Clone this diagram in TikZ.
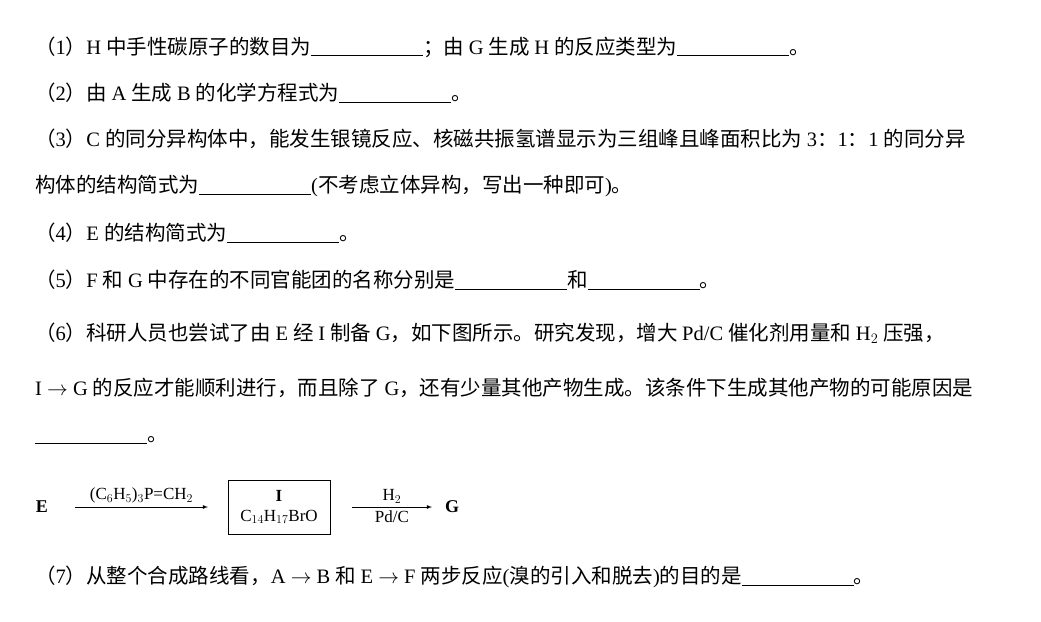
\documentclass[tikz,border=0pt]{standalone}
\usepackage{fontspec}
\setmainfont{Liberation Serif}
\newfontfamily\cjk{Noto Sans CJK SC}
\usetikzlibrary{positioning}
\newXeTeXintercharclass\cjkclass
\count255="4E00 \loop \XeTeXcharclass\count255=\cjkclass \advance\count255 1 \ifnum\count255<"A000 \repeat
\count255="3000 \loop \XeTeXcharclass\count255=\cjkclass \advance\count255 1 \ifnum\count255<"3040 \repeat
\count255="FF00 \loop \XeTeXcharclass\count255=\cjkclass \advance\count255 1 \ifnum\count255<"FFF0 \repeat
\XeTeXinterchartoks 0 \cjkclass = {\cjk}
\XeTeXinterchartoks 4095 \cjkclass = {\cjk}
\XeTeXinterchartoks \cjkclass 0 = {\rmfamily}
\XeTeXinterchartoks 4095 0 = {\rmfamily}
\newcommand{\blank}{\rule[-2pt]{112pt}{0.7pt}}
\begin{document}
\XeTeXinterchartokenstate=1
\begin{tikzpicture}[x=1pt,y=-1pt,
  txt/.style={anchor=west,inner sep=0pt,font=\fontsize{20.5}{24}\selectfont},
  chem/.style={inner sep=2pt,font=\fontsize{18}{22}\selectfont}]
\useasboundingbox (0,0) rectangle (1041,621);
\node[txt] (q1) at (35,47) {（1）H 中手性碳原子的数目为\blank；由 G 生成 H 的反应类型为\blank。};
\node[txt] (q2) at (35,93) {（2）由 A 生成 B 的化学方程式为\blank。};
\node[txt] (q3) at (35,139) {（3）C 的同分异构体中，能发生银镜反应、核磁共振氢谱显示为三组峰且峰面积比为 3：1：1 的同分异};
\node[txt] (q3b) at (35,186) {构体的结构简式为\blank(不考虑立体异构，写出一种即可)。};
\node[txt] (q4) at (35,233) {（4）E 的结构简式为\blank。};
\node[txt] (q5) at (35,280) {（5）F 和 G 中存在的不同官能团的名称分别是\blank 和\blank。};
\node[txt] (q6) at (35,333) {（6）科研人员也尝试了由 E 经 I 制备 G，如下图所示。研究发现，增大 Pd/C 催化剂用量和 H$_2$ 压强，};
\node[txt] (q6b) at (35,388) {I $\rightarrow$ G 的反应才能顺利进行，而且除了 G，还有少量其他产物生成。该条件下生成其他产物的可能原因是};
\node[txt] (q6c) at (35,440) {\blank。};
% scheme
\node[chem,font=\fontsize{18}{22}\selectfont\bfseries] (E) at (42,507) {E};
\node[chem,draw,thick,align=center,minimum width=102pt,minimum height=54pt,font=\fontsize{17}{20}\selectfont] (I) at (279,507) {\textbf{I}\\C$_{14}$H$_{17}$BrO};
\node[chem,font=\fontsize{18}{22}\selectfont\bfseries] (G) at (452,507) {G};
\coordinate (a1) at (75,507);
\coordinate (a2) at (208,507);
\coordinate (b1) at (352,507);
\coordinate (b2) at (432,507);
\draw[thick,-latex] (a1) -- node[above,font=\fontsize{17}{20}\selectfont] {(C$_6$H$_5$)$_3$P=CH$_2$} (a2);
\draw[thick,-latex] (b1) -- node[above,font=\fontsize{17}{20}\selectfont] {H$_2$} node[below,font=\fontsize{17}{20}\selectfont] {Pd/C} (b2);
\node[txt] (q7) at (35,577) {（7）从整个合成路线看，A $\rightarrow$ B 和 E $\rightarrow$ F 两步反应(溴的引入和脱去)的目的是\blank。};
\end{tikzpicture}
\end{document}
